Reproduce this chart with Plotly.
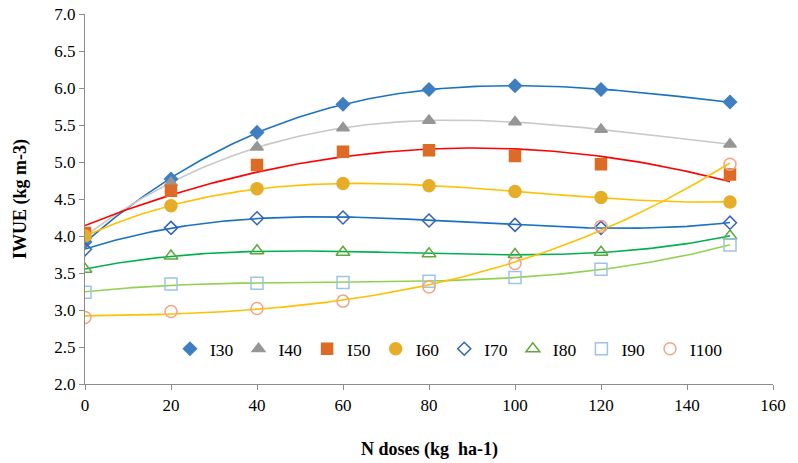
import numpy as np
import plotly.graph_objects as go

n_doses = [0, 20, 40, 60, 80, 100, 120, 150]
names = ["I30", "I40", "I50", "I60", "I70", "I80", "I90", "I100"]
I30 = [3.92, 4.77, 5.40, 5.78, 5.98, 6.03, 5.98, 5.81]
I40 = [4.00, 4.72, 5.20, 5.46, 5.56, 5.54, 5.44, 5.24]
I50 = [4.04, 4.61, 4.96, 5.14, 5.16, 5.08, 4.97, 4.83]
I60 = [4.00, 4.41, 4.64, 4.71, 4.68, 4.60, 4.52, 4.46]
I70 = [3.82, 4.11, 4.24, 4.25, 4.21, 4.15, 4.11, 4.18]
I80 = [3.55, 3.73, 3.80, 3.78, 3.76, 3.75, 3.78, 4.00]
I90 = [3.24, 3.35, 3.36, 3.37, 3.39, 3.44, 3.55, 3.88]
I100 = [2.90, 2.98, 3.02, 3.12, 3.31, 3.63, 4.13, 4.97]
series = [I30, I40, I50, I60, I70, I80, I90, I100]

marker_symbols = ["diamond", "triangle-up", "square", "circle",
                  "diamond-open", "triangle-up-open", "square-open", "circle-open"]
marker_colors = ["#3F7FC1", "#969696", "#DD6B26", "#E6AD28",
                 "#3563B8", "#5FA83C", "#9DC3E6", "#F4A484"]
marker_sizes = [10, 11, 11, 12, 10, 12, 12, 12]
line_colors = ["#1B72C2", "#C8C8C8", "#FF0000", "#FFC000",
               "#1B72C2", "#00B050", "#92D050", "#FFC000"]
trend_deg = [3, 3, 2, 3, 3, 3, 3, 3]

fig = go.Figure()
xs = np.linspace(0, 150, 151)
for vals, col, deg in zip(series, line_colors, trend_deg):
    coef = np.polyfit(n_doses, vals, deg)
    fig.add_trace(go.Scatter(x=xs, y=np.polyval(coef, xs), mode="lines",
                             line=dict(color=col, width=1.6),
                             showlegend=False, hoverinfo="skip"))
for name, vals, sym, col, sz in zip(names, series, marker_symbols, marker_colors, marker_sizes):
    fig.add_trace(go.Scatter(x=n_doses, y=vals, mode="markers", name=name,
                             marker=dict(symbol=sym, color=col, size=sz,
                                         line=dict(color=col, width=1.5))))

font_family = "Liberation Serif, Times New Roman, serif"
fig.update_layout(
    width=798, height=463,
    margin=dict(l=85, r=25, t=14, b=79),
    plot_bgcolor="white", paper_bgcolor="white",
    font=dict(family=font_family, size=17, color="#000000"),
    xaxis=dict(range=[0, 160], dtick=20, showgrid=False, zeroline=False,
               showline=True, linecolor="#8C8C8C", linewidth=1.3,
               ticks="outside", ticklen=5, tickcolor="#8C8C8C",
               tickfont=dict(size=17), automargin=False),
    yaxis=dict(range=[2.0, 7.0], dtick=0.5, tickformat=".1f", showgrid=False,
               zeroline=False, showline=True, linecolor="#8C8C8C", linewidth=1.3,
               ticks="outside", ticklen=5, tickcolor="#8C8C8C",
               tickfont=dict(size=17), automargin=False),
    legend=dict(orientation="h", x=0.529, y=0.095, xanchor="center", yanchor="middle",
                bgcolor="rgba(0,0,0,0)", font=dict(size=17.5), itemwidth=30,
                tracegroupgap=0),
    annotations=[
        dict(text="<b>N doses (kg  ha-1)</b>", xref="paper", yref="paper",
             x=0.5, y=-0.176, xanchor="center", yanchor="middle",
             showarrow=False, font=dict(size=18)),
        dict(text="<b>IWUE (kg m-3)</b>", xref="paper", yref="paper",
             x=-0.0945, y=0.5, xanchor="center", yanchor="middle", textangle=-90,
             showarrow=False, font=dict(size=18)),
    ],
)
fig.write_html("out.html", config={"displayModeBar": False},
               post_script="document.body.style.margin='0';document.body.style.overflow='hidden';")
